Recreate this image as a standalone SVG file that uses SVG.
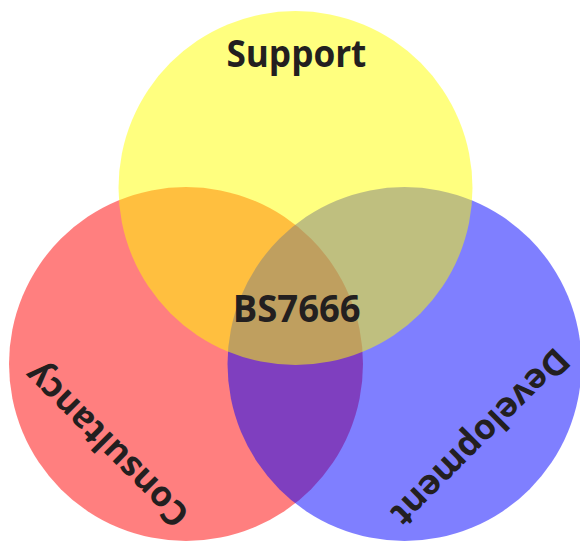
<svg xmlns="http://www.w3.org/2000/svg" width="580" height="544" viewBox="0 0 580 544">
<style>
.set{fill-opacity:0.5;stroke:none}
.big{font-family:"Open Sans","Liberation Sans",sans-serif;font-weight:700;font-size:38px;fill:#231f20;text-anchor:middle}
.side{font-family:"Open Sans","Liberation Sans",sans-serif;font-weight:700;font-size:35px;fill:#231f20;text-anchor:middle}
</style>
<rect width="580" height="544" fill="#ffffff"/>
<g id="consultancy">
<circle class="set" cx="186" cy="364" r="177" fill="#ff0000"/>
<text class="side" transform="translate(107,445) rotate(225)" dy="0.33em">Consultancy</text>
</g>
<g id="development">
<circle class="set" cx="404.5" cy="364" r="177" fill="#0000ff"/>
<text class="side" transform="translate(480,437) rotate(135)" dy="0.33em">Development</text>
</g>
<g id="support">
<circle class="set" cx="295.5" cy="188" r="177" fill="#ffff00"/>
<text class="big" x="296.4" y="66.7" textLength="140" lengthAdjust="spacingAndGlyphs">Support</text>
</g>
<g id="bs7666">
<text class="big" x="296.7" y="321.7" textLength="128" lengthAdjust="spacingAndGlyphs">BS7666</text>
</g>
<g id="connectors"/>
</svg>
